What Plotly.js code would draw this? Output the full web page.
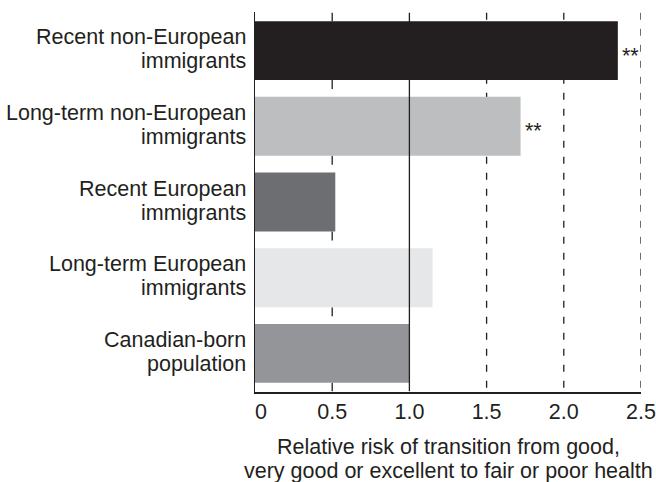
<!DOCTYPE html>
<html>
<head>
<meta charset="utf-8">
<script src="https://cdn.plot.ly/plotly-3.0.1.min.js"></script>
<style>
  html, body { margin: 0; padding: 0; background: #ffffff; }
  #chart { width: 656px; height: 482px; }
</style>
</head>
<body>
<div id="chart"></div>
<script>
// ---- Data ----
const categories = [
  'Recent non-European<br>immigrants',
  'Long-term non-European<br>immigrants',
  'Recent European<br>immigrants',
  'Long-term European<br>immigrants',
  'Canadian-born<br>population'
];
const relativeRisk = [2.35, 1.72, 0.52, 1.15, 1.00];
const significance = ['**', '**', '', '', ''];
const xTickValues = [0, 0.5, 1.0, 1.5, 2.0, 2.5];
const xTickLabels = ['0', '0.5', '1.0', '1.5', '2.0', '2.5'];
const solidRefLines = [1.0];
const dashedRefLines = [1.5, 2.0, 2.5];
const hiddenRefLines = [0.5];
const xTitleLines = [
  'Relative risk of transition from good,',
  'very good or excellent to fair or poor health'
];

// ---- Styles ----
const barColors = ['#231f20', '#bcbec0', '#6d6e71', '#e6e7e8', '#939598'];
const ink = '#231f20';
const fontFamily = '"Liberation Sans", Arial, Helvetica, sans-serif';
const fontSize = 21.5;
const bargap = 0.224;

const trace = {
  type: 'bar',
  orientation: 'h',
  x: relativeRisk,
  y: categories,
  marker: { color: barColors, line: { width: 0 } },
  hoverinfo: 'none',
  showlegend: false
};

const n = categories.length;
const halfW = (1 - bargap) / 2;
const shapes = [];

// Solid reference line(s), above bars
solidRefLines.forEach(v => shapes.push({
  type: 'line', xref: 'x', yref: 'y', x0: v, x1: v, y0: -0.5, y1: n - 0.5,
  line: { color: ink, width: 1.3 }, layer: 'above'
}));
// Dashed reference lines, below bars
dashedRefLines.forEach(v => shapes.push({
  type: 'line', xref: 'x', yref: 'y', x0: v, x1: v, y0: -0.5, y1: n - 0.5,
  line: { color: ink, width: 1.3, dash: '7px,9px' }, layer: 'below'
}));
// Partly visible gridline segments in the gaps (below bars)
hiddenRefLines.forEach(v => {
  shapes.push({
    type: 'line', xref: 'x', yref: 'y', x0: v, x1: v, y0: -0.5, y1: -halfW,
    line: { color: ink, width: 1.3 }, layer: 'below'
  });
  for (let i = 0; i < n; i++) {
    shapes.push({
      type: 'line', xref: 'x', yref: 'y', x0: v, x1: v,
      y0: i + halfW, y1: Math.min(i + halfW + 0.12, n - 0.5),
      line: { color: ink, width: 1.3 }, layer: 'below'
    });
  }
});

const annotations = [];
// Category labels (two lines each, right aligned)
categories.forEach((c, i) => {
  const lines = c.split('<br>');
  const shifts = [13.5, -10.5];
  lines.forEach((t, k) => annotations.push({
    xref: 'paper', yref: 'y', x: 0, y: c, xanchor: 'right', yanchor: 'middle',
    xshift: -7, yshift: shifts[k], text: t, showarrow: false, align: 'right',
    font: { family: fontFamily, size: fontSize, color: ink }
  }));
});
// Significance markers
significance.forEach((s, i) => {
  if (!s) return;
  annotations.push({
    xref: 'x', yref: 'y', x: relativeRisk[i], y: categories[i],
    xanchor: 'left', yanchor: 'middle', xshift: 2, yshift: -5,
    text: s, showarrow: false,
    font: { family: fontFamily, size: fontSize, color: ink }
  });
});
// X axis title (two lines)
const titleShifts = [-55, -79];
xTitleLines.forEach((t, k) => annotations.push({
  xref: 'paper', yref: 'paper', x: 0.5, y: 0, xanchor: 'center', yanchor: 'middle',
  yshift: titleShifts[k], text: t, showarrow: false,
  font: { family: fontFamily, size: fontSize, color: ink }
}));

const layout = {
  width: 656,
  height: 482,
  margin: { l: 255, r: 15, t: 12, b: 90, pad: 0 },
  paper_bgcolor: '#ffffff',
  plot_bgcolor: '#ffffff',
  bargap: bargap,
  font: { family: fontFamily, size: fontSize, color: ink },
  xaxis: {
    range: [0, 2.5],
    tickmode: 'array',
    tickvals: xTickValues,
    ticktext: xTickLabels.map((t, i) => i === 0 ? '\u00a0\u00a0' + t : t),
    ticks: '',
    showgrid: false,
    zeroline: false,
    showline: true,
    linecolor: ink,
    linewidth: 1.6,
    tickfont: { family: fontFamily, size: fontSize, color: ink },
    fixedrange: true
  },
  yaxis: {
    type: 'category',
    categoryorder: 'array',
    categoryarray: categories,
    autorange: 'reversed',
    showticklabels: false,
    ticks: '',
    showgrid: false,
    zeroline: false,
    showline: true,
    linecolor: ink,
    linewidth: 1.3,
    fixedrange: true
  },
  shapes: shapes,
  annotations: annotations
};

Plotly.newPlot('chart', [trace], layout, { displayModeBar: false, staticPlot: true });
</script>
</body>
</html>
